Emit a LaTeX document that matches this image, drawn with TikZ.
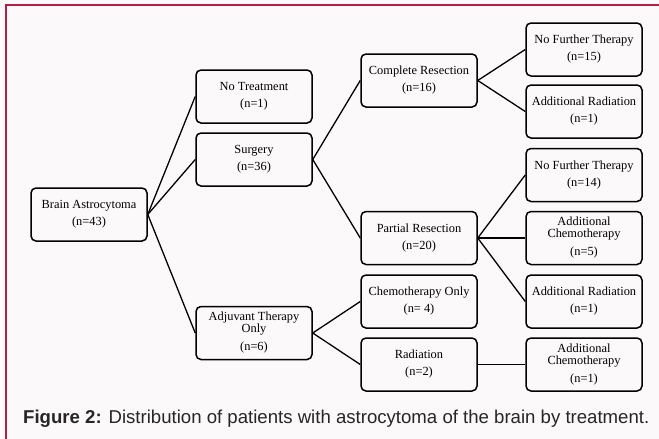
\documentclass[tikz,border=0pt]{standalone}
\usepackage{fontspec}
\setmainfont{Liberation Serif}
\newfontfamily\capfont{Liberation Sans}
\usepackage{tikz}
\usepackage{xcolor}
\definecolor{framered}{RGB}{178,32,72}
\definecolor{paper}{RGB}{251,249,250}
\tikzset{treebox/.style={draw=black, line width=1.5pt, rounded corners=5pt,
   minimum width=116pt, minimum height=53pt, align=center,
   font=\fontsize{12.4}{12}\selectfont, inner sep=0pt},
 link/.style={draw=black, line width=1.3pt},
 }

\begin{document}
\begin{tikzpicture}[x=1pt, y=-1pt]
        \useasboundingbox (0,0) rectangle (659,439);
        \fill[paper] (0,0) rectangle (659,439);
        \draw[framered, line width=1.4pt] (6,439) -- (6,5) -- (659,5);

        % first level
        \node[treebox] (brain) at (89,214.5) {Brain Astrocytoma\\[5pt](n=43)};
        \node[treebox] (notreat) at (254,96.5) {No Treatment\\[5pt](n=1)};
        \node[treebox] (surgery) at (254,159.5) {Surgery\\[5pt](n=36)};
        \node[treebox] (adjuvant) at (254,333) {Adjuvant Therapy\\Only\\[6pt](n=6)};

        % second level
        \node[treebox] (complete) at (419,80.5) {Complete Resection\\[5pt](n=16)};
        \node[treebox] (partial) at (419,238) {Partial Resection\\[5pt](n=20)};
        \node[treebox] (chemoonly) at (419,301.5) {Chemotherapy Only\\[5pt](n= 4)};
        \node[treebox] (radiation) at (419,364.5) {Radiation\\[5pt](n=2)};

        % third level
        \node[treebox] (nofurtherA) at (584,49.5) {No Further Therapy\\[5pt](n=15)};
        \node[treebox] (addradA) at (584,111.5) {Additional Radiation\\[5pt](n=1)};
        \node[treebox] (nofurtherB) at (584,175) {No Further Therapy\\[5pt](n=14)};
        \node[treebox] (addchemoA) at (584,238) {Additional\\Chemotherapy\\[6pt](n=5)};
        \node[treebox] (addradB) at (584,301.5) {Additional Radiation\\[5pt](n=1)};
        \node[treebox] (addchemoB) at (584,364.5) {Additional\\Chemotherapy\\[6pt](n=1)};

        \foreach \a/\b in {brain/notreat, brain/surgery, brain/adjuvant,
            surgery/complete, surgery/partial, adjuvant/chemoonly, adjuvant/radiation,
            complete/nofurtherA, complete/addradA, partial/nofurtherB, partial/addchemoA,
            partial/addradB, radiation/addchemoB} {
            \draw[link] (\a.east) -- (\b.west);
        }

        \node[anchor=base west, inner sep=0pt, text=black!85,
            font=\capfont\fontsize{18.6}{20}\selectfont] (caption) at (23,423)
            {\textbf{Figure 2:} Distribution of patients with astrocytoma of the brain by treatment.};
    \end{tikzpicture}
\end{document}
